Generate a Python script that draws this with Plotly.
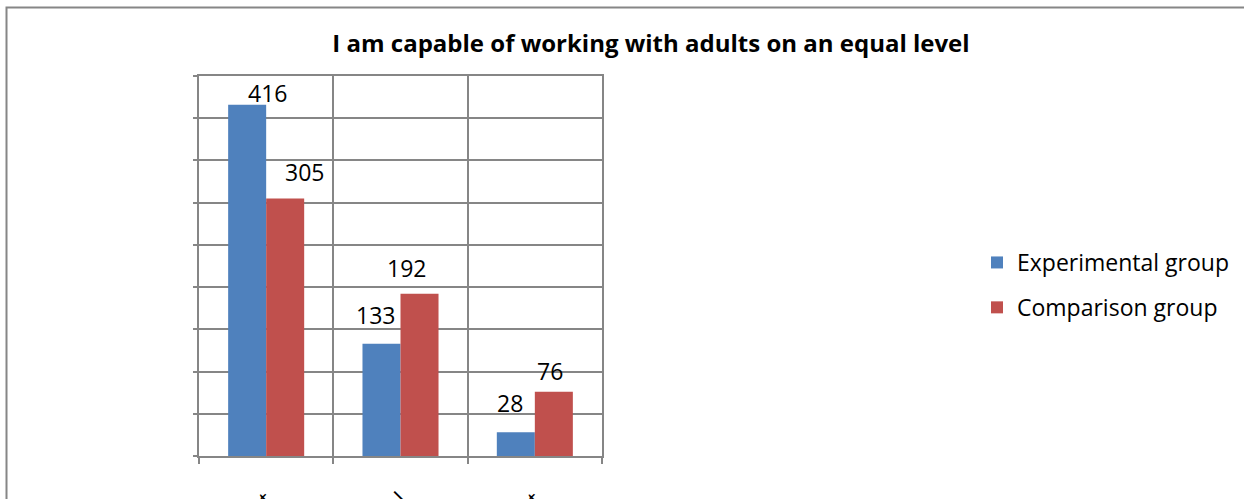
import plotly.graph_objects as go

# Survey responses for the statement
categories = ["To a great extent", "To a partial level", "Not correct"]
experimental = [416, 133, 28]
comparison = [305, 192, 76]

# Pixel nudges for each value label (dx, dy from the bar top centre)
exp_label_dx = [20, -6, -6]
exp_label_dy = [12, 29, 29]
cmp_label_dx = [19, -13, -4]
cmp_label_dy = [26, 26, 21]

BLUE = "#4F81BD"
RED = "#C0504D"
GRID = "#868686"
FONT = "Open Sans"
TEXT_SIZE = 23

# Plot area geometry (px)
W, H = 1244, 499
L, R, T, B = 199, 602, 76, 456
pw, ph = R - L, B - T

fig = go.Figure()
fig.add_trace(go.Bar(x=categories, y=experimental, name="Experimental group",
                     legendgroup="exp",
                     marker=dict(color=BLUE, line=dict(width=0))))
fig.add_trace(go.Bar(x=categories, y=comparison, name="Comparison group",
                     legendgroup="cmp",
                     marker=dict(color=RED, line=dict(width=0))))

bargap = 0.434
half = (1 - bargap) / 4  # centre offset of each bar within a group

annotations = []
for i in range(len(categories)):
    for vals, dx, dy, sgn in ((experimental, exp_label_dx, exp_label_dy, -1),
                              (comparison, cmp_label_dx, cmp_label_dy, 1)):
        annotations.append(dict(
            x=i + sgn * half, y=vals[i], xref="x", yref="y",
            text=str(vals[i]), showarrow=False,
            xanchor="center", yanchor="middle",
            xshift=dx[i], yshift=dy[i],
            font=dict(family=FONT, size=TEXT_SIZE, color="#000000")))

def px_x(x):
    return (x - L) / pw

def px_y(y):
    return (B - y) / ph

# Outer chart frame
shapes = [dict(type="rect", xref="paper", yref="paper",
               x0=px_x(6.5), x1=px_x(1300), y0=px_y(560), y1=px_y(7.5),
               line=dict(color=GRID, width=2), fillcolor="rgba(0,0,0,0)",
               layer="below")]

fig.update_layout(
    width=W, height=H,
    margin=dict(l=L, r=W - R, t=T, b=H - B, pad=0, autoexpand=False),
    paper_bgcolor="white", plot_bgcolor="white",
    barmode="group", bargap=bargap, bargroupgap=0,
    font=dict(family=FONT, color="#000000"),
    title=dict(text="<b>I am capable of working with adults on an equal level</b>",
               x=651 / W, xref="container", xanchor="center",
               y=1 - 44 / H, yref="container", yanchor="middle",
               automargin=False,
               font=dict(family=FONT, size=24, color="#000000")),
    legend=dict(x=px_x(977), y=px_y(285), xref="paper", yref="paper",
                xanchor="left", yanchor="middle", tracegroupgap=12,
                font=dict(family=FONT, size=TEXT_SIZE, color="#000000"),
                bgcolor="rgba(0,0,0,0)", itemclick=False),
    showlegend=True,
    annotations=annotations,
    shapes=shapes,
)

fig.update_xaxes(type="category", tickson="boundaries", ticks="outside",
                 ticklen=6, tickcolor=GRID, tickwidth=1.5,
                 showgrid=True, gridcolor=GRID, gridwidth=1.5,
                 showline=True, linecolor=GRID, linewidth=1.5, mirror=True,
                 tickangle=-45, ticklabelstandoff=20, automargin=False,
                 tickfont=dict(family=FONT, size=TEXT_SIZE, color="#000000"))
fig.update_yaxes(range=[0, 450], dtick=50, showticklabels=False,
                 ticks="outside", ticklen=4, tickcolor=GRID, tickwidth=1.5,
                 showgrid=True, gridcolor=GRID, gridwidth=1.5,
                 showline=True, linecolor=GRID, linewidth=1.5, mirror=True,
                 zeroline=False, automargin=False)

fig.write_html("out.html")
